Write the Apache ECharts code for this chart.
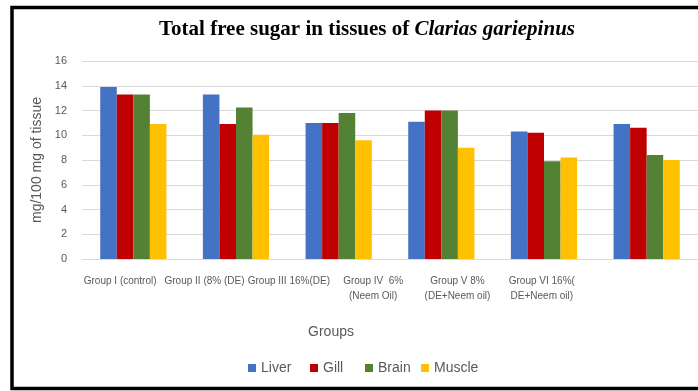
<!DOCTYPE html>
<html>
<head>
<meta charset="utf-8">
<script src="https://cdn.jsdelivr.net/npm/echarts@6/dist/echarts.min.js"></script>
<style>
  html, body { margin: 0; padding: 0; background: #fff; }
  #chart { width: 698px; height: 391px; }
</style>
</head>
<body>
<div id="chart"></div>
<script>
// Treatment groups (x axis)
const groups = [
  'Group I (control)',
  'Group II (8% (DE)',
  'Group III 16%(DE)',
  'Group IV  6%\n(Neem Oil)',
  'Group V 8%\n(DE+Neem oil)',
  'Group VI 16%(\nDE+Neem oil)'
];

// Total free sugar, mg/100 mg of tissue
const liver  = [13.9, 13.3, 11.0, 11.1, 10.3, 10.9];
const gill   = [13.3, 10.9, 11.0, 12.0, 10.2, 10.6];
const brain  = [13.3, 12.25, 11.8, 12.0, 7.9, 8.4];
const muscle = [10.9, 10.05, 9.6, 9.0, 8.2, 8.0];

const tissueNames = ['Liver', 'Gill', 'Brain', 'Muscle'];
const tissueColors = ['#4472C4', '#C00000', '#548235', '#FFC000'];
const tissueValues = [liver, gill, brain, muscle];

const yTicks = { min: 0, max: 16, interval: 2 };

const chart = echarts.init(document.getElementById('chart'));
const labelFont = '"Liberation Sans", Arial, sans-serif';
const serifFont = '"Liberation Serif", "Times New Roman", serif';

// one legend entry per tissue, each placed on its own
const legendLeft = [248, 310, 365, 421];

chart.setOption({
  animation: false,
  backgroundColor: '#ffffff',
  graphic: [{
    type: 'rect',
    shape: { x: 12, y: 7.5, width: 720, height: 381 },
    style: { fill: 'none', stroke: '#000', lineWidth: 3.5 },
    silent: true
  }],
  title: {
    text: '{b|Total free sugar in tissues of }{i|Clarias gariepinus}',
    left: 362,
    textAlign: 'center',
    top: 14,
    textStyle: {
      rich: {
        b: { fontFamily: serifFont, fontWeight: 'bold', fontSize: 21, color: '#000' },
        i: { fontFamily: serifFont, fontWeight: 'bold', fontStyle: 'italic', fontSize: 21, color: '#000' }
      }
    }
  },
  legend: tissueNames.map((name, k) => ({
    data: [name],
    left: legendLeft[k],
    top: 361,
    itemWidth: 8,
    itemHeight: 8,
    icon: 'rect',
    padding: 0,
    textStyle: { fontFamily: labelFont, fontSize: 14, color: '#595959', padding: [0, 0, 0, 0] }
  })),
  grid: [
    // bars
    { left: 82, top: 61, width: 621, height: 198, containLabel: false },
    // group labels and axis title
    { left: 78, top: 61, width: 506, height: 198, containLabel: false }
  ],
  xAxis: [{
    type: 'category',
    gridIndex: 0,
    data: groups,
    axisLine: { show: true, lineStyle: { color: '#d9d9d9', width: 1 } },
    axisTick: { show: false },
    axisLabel: { show: false }
  }, {
    type: 'category',
    gridIndex: 1,
    data: groups,
    name: 'Groups',
    nameLocation: 'middle',
    nameGap: 66,
    nameTextStyle: { fontFamily: labelFont, fontSize: 14, color: '#595959' },
    axisLine: { show: false },
    axisTick: { show: false },
    axisLabel: {
      interval: 0,
      fontFamily: labelFont,
      fontSize: 10,
      color: '#595959',
      lineHeight: 15,
      margin: 15,
      align: 'center'
    }
  }],
  yAxis: [{
    type: 'value',
    gridIndex: 0,
    min: yTicks.min,
    max: yTicks.max,
    interval: yTicks.interval,
    name: 'mg/100 mg of tissue',
    nameLocation: 'middle',
    nameGap: 38,
    nameRotate: 90,
    nameTextStyle: { fontFamily: labelFont, fontSize: 14, color: '#595959' },
    axisLine: { show: false },
    axisTick: { show: false },
    axisLabel: { fontFamily: labelFont, fontSize: 11, color: '#595959', margin: 15 },
    splitLine: { lineStyle: { color: '#d9d9d9', width: 1 } }
  }, {
    type: 'value',
    gridIndex: 1,
    min: yTicks.min,
    max: yTicks.max,
    show: false
  }],
  series: tissueNames.map((name, k) => ({
    name: name,
    type: 'bar',
    xAxisIndex: 0,
    yAxisIndex: 0,
    data: tissueValues[k],
    itemStyle: { color: tissueColors[k] },
    barGap: '0%',
    barCategoryGap: '35.5%'
  }))
});
</script>
</body>
</html>
